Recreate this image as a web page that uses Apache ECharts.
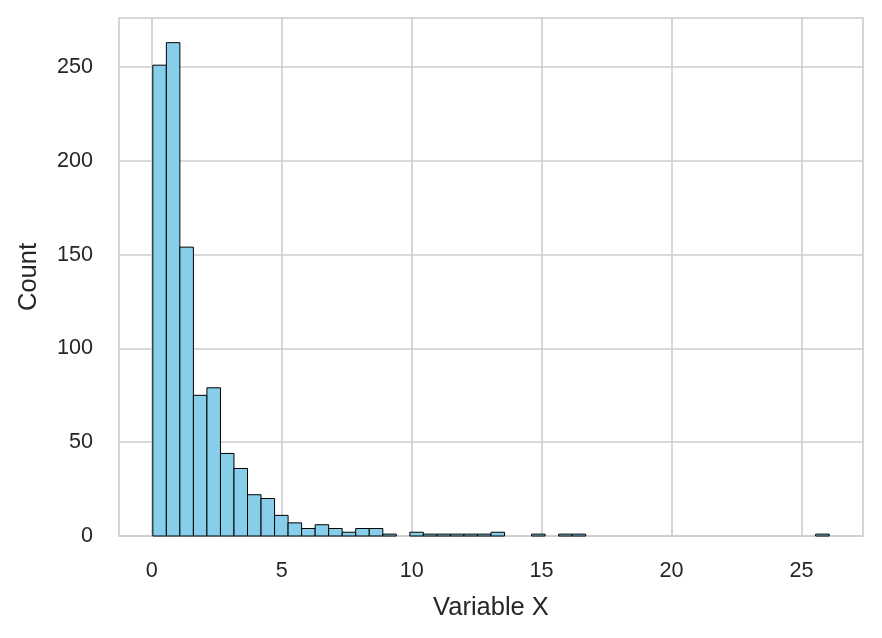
<!DOCTYPE html>
<html>
<head>
<meta charset="utf-8">
<script src="https://cdn.jsdelivr.net/npm/echarts@6/dist/echarts.min.js"></script>
<style>
  html, body { margin: 0; padding: 0; background: #fff; }
  #chart { width: 882px; height: 638px; }
</style>
</head>
<body>
<div id="chart"></div>
<script>
// histogram of Variable X, 50 equal bins
var binStart = 0.04
var binWidth = 0.5205
var counts = [
  251, 263, 154, 75, 79, 44, 36, 22, 20, 11,
  7, 4, 6, 4, 2, 4, 4, 1, 0, 2,
  1, 1, 1, 1, 1, 2, 0, 0, 1, 0,
  1, 1, 0, 0, 0, 0, 0, 0, 0, 0,
  0, 0, 0, 0, 0, 0, 0, 0, 0, 1
]
var xTicks = [0, 5, 10, 15, 20, 25]
var yTicks = [0, 50, 100, 150, 200, 250]

var font = "'Liberation Sans', Arial, sans-serif"
var textColor = '#262626'
var gridColor = '#cccccc'

var bins = counts.map(function(c, i) {
  return [binStart + i * binWidth, binStart + (i + 1) * binWidth, c]
})

function renderBin(params, api) {
  if (api.value(2) <= 0) return null
  var topLeft = api.coord([api.value(0), api.value(2)])
  var bottomRight = api.coord([api.value(1), 0])
  return {
    type: 'rect',
    shape: {
      x: topLeft[0],
      y: topLeft[1],
      width: bottomRight[0] - topLeft[0],
      height: bottomRight[1] - topLeft[1]
    },
    style: { fill: '#87ceeb', stroke: '#000000', lineWidth: 1 }
  }
}

var chart = echarts.init(document.getElementById('chart'))
chart.setOption({
  animation: false,
  backgroundColor: '#ffffff',
  grid: {
    left: 119, right: 19, top: 18, bottom: 102,
    show: true,
    borderColor: gridColor,
    borderWidth: 1.6
  },
  xAxis: {
    type: 'value',
    min: -1.2613,
    max: 27.366,
    name: 'Variable X',
    nameLocation: 'middle',
    nameGap: 59,
    nameTextStyle: { fontFamily: font, fontSize: 25.5, color: textColor },
    axisLine: { show: false },
    axisTick: { show: false, customValues: xTicks },
    axisLabel: {
      customValues: xTicks,
      margin: 24,
      fontFamily: font, fontSize: 21.6, color: textColor
    },
    splitLine: { show: true, lineStyle: { color: gridColor, width: 1.6 } }
  },
  yAxis: {
    type: 'value',
    min: 0,
    max: 276.15,
    name: 'Count',
    nameLocation: 'middle',
    nameGap: 77,
    nameTextStyle: { fontFamily: font, fontSize: 25.5, color: textColor },
    axisLine: { show: false },
    axisTick: { show: false, customValues: yTicks },
    axisLabel: {
      customValues: yTicks,
      margin: 26,
      padding: [5, 0, 0, 0],
      fontFamily: font, fontSize: 21.6, color: textColor
    },
    splitLine: { show: true, lineStyle: { color: gridColor, width: 1.6 } }
  },
  series: [{
    type: 'custom',
    renderItem: renderBin,
    encode: { x: [0, 1], y: 2 },
    data: bins
  }]
})
</script>
</body>
</html>
